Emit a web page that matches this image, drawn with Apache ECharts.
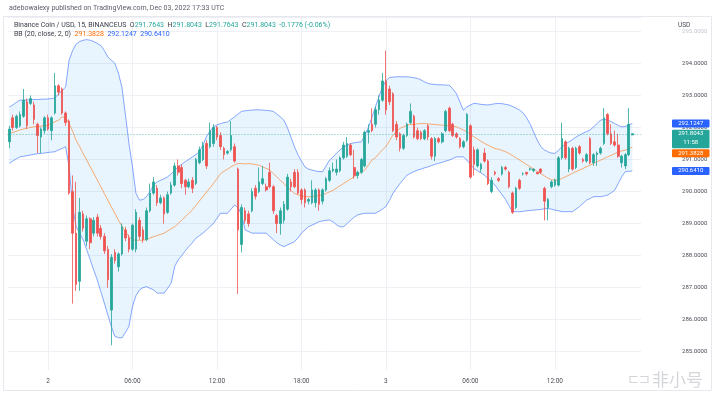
<!DOCTYPE html>
<html><head><meta charset="utf-8">
<script src="https://cdn.jsdelivr.net/npm/echarts@6/dist/echarts.min.js"></script>
<style>html,body{margin:0;padding:0;background:#fff}#c{width:719px;height:394px}</style>
</head><body><div id="c"></div>
<script>
// ---------- DATA (BNB/USD 15m, BINANCEUS) ----------
const startUTC = Date.UTC(2022, 11, 1, 21, 15);   // first candle time
const slotCount = 180;                              // 178 candles + 2 empty right-offset slots

const openP = [291.55,292.30,292.00,292.05,292.35,292.80,292.75,292.70,292.10,291.70,
291.90,292.30,291.90,292.45,293.30,293.20,292.45,292.20,290.00,288.70,
287.20,289.30,288.45,289.15,288.70,289.20,288.85,288.60,288.20,286.30,
288.10,287.65,288.05,288.80,288.55,288.20,288.20,289.10,288.80,288.50,
289.40,289.95,290.10,289.65,289.80,289.35,289.95,290.20,290.80,290.75,
290.35,290.15,290.35,290.25,290.90,291.00,291.50,291.40,291.50,292.00,
291.75,291.35,291.20,291.30,291.40,290.70,288.35,289.40,289.30,289.40,
290.10,290.00,290.25,290.15,290.60,290.15,289.25,289.00,289.10,289.45,
290.30,290.60,290.60,290.05,290.05,289.70,289.65,289.65,290.05,289.70,
290.05,290.35,290.65,290.60,290.65,291.05,291.10,291.45,290.75,290.50,
290.60,290.80,291.85,292.10,292.10,292.55,292.85,293.45,293.20,293.05,
292.10,291.80,291.35,291.75,292.15,292.35,291.90,291.85,291.65,292.05,
291.65,291.10,291.65,291.55,291.90,292.60,292.10,291.80,291.65,291.40,
291.60,292.05,291.30,290.80,290.70,291.20,290.95,290.00,290.60,290.40,
290.55,290.75,290.60,289.95,289.50,290.35,290.55,290.60,290.70,290.65,
290.60,290.70,290.10,289.50,290.15,290.20,290.20,291.05,291.55,290.70,
291.35,290.75,291.40,291.00,290.95,291.65,290.90,291.15,291.20,291.50,
292.40,291.80,291.55,291.45,290.90,290.80,291.15,291.7643];

const closeP = [291.95,292.00,292.35,292.40,292.85,292.05,292.90,292.25,291.75,291.95,
292.30,291.95,292.30,293.30,293.10,292.45,292.15,289.95,288.70,287.10,
289.35,288.85,289.15,288.40,289.10,288.70,288.60,288.15,287.25,287.95,
287.85,288.05,288.90,288.55,288.20,288.95,289.35,288.60,288.50,289.40,
289.95,290.30,289.65,289.80,289.30,289.90,290.20,290.80,290.60,290.25,
290.15,290.30,290.10,291.00,291.30,291.45,290.80,291.90,292.00,291.70,
291.40,291.15,291.25,291.75,290.95,288.80,289.50,289.10,289.00,290.00,
289.85,290.30,290.40,290.05,290.15,289.40,289.00,289.40,289.60,290.45,
290.15,290.15,289.95,289.75,289.65,289.75,290.05,290.05,289.60,290.05,
290.40,290.65,290.70,290.70,291.05,291.45,291.50,291.15,290.50,290.60,
291.00,291.85,291.90,291.90,292.55,292.85,293.45,292.55,292.80,291.90,
291.70,291.35,291.75,292.10,292.50,291.70,291.65,291.65,291.90,291.70,
291.10,291.65,291.55,291.80,292.50,291.90,291.75,291.70,291.40,291.55,
292.40,290.45,290.85,291.30,290.85,290.95,290.25,290.35,290.55,290.35,
290.75,290.70,290.15,289.35,290.10,290.10,290.55,290.55,290.70,290.70,
290.55,290.60,289.70,289.75,290.30,290.35,291.05,291.65,291.05,291.35,
290.70,291.35,291.20,290.95,291.15,290.90,291.15,291.20,291.35,292.30,
291.80,291.50,291.45,291.10,291.10,291.15,292.10,291.8043];

const lowP = [291.35,291.90,291.95,292.00,292.30,291.95,292.70,292.10,291.20,291.20,
291.80,291.90,291.60,292.40,293.00,292.40,292.05,289.90,286.50,286.90,
286.90,288.75,288.30,288.20,288.60,288.60,288.50,288.05,287.00,285.20,
287.75,287.50,288.00,288.45,288.10,288.15,288.10,288.50,288.40,288.45,
289.35,289.90,289.55,289.60,289.00,289.30,289.90,290.15,290.50,290.10,
289.90,290.10,289.95,290.20,290.85,290.95,290.70,291.35,291.40,291.60,
291.30,291.00,291.15,291.25,290.90,286.80,288.10,289.00,288.90,289.35,
289.75,289.95,290.20,290.00,290.10,289.30,288.70,288.65,289.00,289.40,
290.00,290.10,289.90,289.60,289.50,289.60,289.60,289.50,289.40,289.60,
290.00,290.30,290.60,290.50,290.60,291.00,291.05,291.10,290.40,290.40,
290.55,290.75,291.50,291.85,292.00,292.40,292.80,292.40,292.70,291.85,
291.60,291.25,291.30,291.70,292.10,291.65,291.60,291.60,291.60,291.60,
291.00,290.95,291.50,291.50,291.85,291.85,291.70,291.65,291.35,291.35,
291.55,290.40,290.50,290.75,290.60,290.90,290.20,289.95,290.50,290.30,
290.50,290.65,290.10,289.30,289.45,290.05,290.50,290.50,290.65,290.60,
290.55,290.55,289.10,289.10,290.10,290.15,290.15,291.00,291.00,290.60,
290.65,290.70,291.15,290.90,290.90,290.85,290.80,290.80,291.15,291.45,
291.75,291.45,291.40,291.05,290.75,290.70,291.10,291.7643];

const highP = [292.05,292.40,292.40,292.50,293.20,292.90,293.00,292.80,292.15,292.00,
292.35,292.40,292.35,293.70,293.35,293.25,292.50,292.25,290.50,290.30,
289.80,289.40,289.25,289.20,289.20,289.30,288.95,288.70,288.30,288.05,
288.20,288.10,289.00,288.90,288.65,289.00,289.45,289.20,288.90,289.50,
290.25,290.45,290.20,289.90,289.85,290.00,290.30,290.90,291.00,290.85,
290.40,290.40,290.45,291.05,291.40,291.55,291.60,292.15,292.10,292.05,
291.85,291.40,291.30,292.20,291.50,290.75,289.60,289.50,289.40,290.10,
290.20,290.75,290.80,290.25,290.90,290.20,289.30,289.50,289.70,290.55,
290.40,290.70,290.70,290.10,290.10,289.80,290.35,290.10,290.10,290.10,
290.45,290.75,290.90,291.00,291.10,291.55,291.70,291.50,291.30,290.65,
291.05,291.90,292.10,292.60,292.65,293.00,293.70,294.40,293.30,293.10,
292.20,291.85,291.80,292.15,292.75,292.40,292.00,291.90,291.95,292.10,
291.70,291.70,291.70,291.85,292.55,292.65,292.15,291.85,291.70,291.60,
292.45,292.10,291.40,291.35,290.90,291.35,291.00,290.45,290.65,290.45,
290.80,290.80,290.65,290.00,290.15,290.40,290.60,290.60,290.75,290.72,
290.60,290.72,290.15,289.80,290.35,290.40,291.10,292.15,291.60,291.40,
291.40,291.40,291.45,291.05,291.20,291.70,291.20,291.25,291.40,292.60,
292.45,292.10,291.90,291.80,291.15,291.20,292.60,291.8043];

const bbUpper = [292.64,292.70,292.78,292.85,292.85,292.86,292.86,292.87,292.87,292.88,
292.88,292.89,292.90,292.92,293.05,293.15,293.26,294.10,294.40,294.60,
294.68,294.72,294.74,294.72,294.68,294.62,294.56,294.40,294.20,294.10,
294.00,293.70,293.26,292.40,291.50,290.77,289.94,289.73,289.75,289.84,
290.00,290.20,290.30,290.35,290.40,290.46,290.55,290.66,290.77,290.85,
290.93,291.00,291.08,291.15,291.24,291.45,291.71,291.88,292.02,292.08,
292.12,292.15,292.17,292.25,292.33,292.42,292.50,292.52,292.53,292.54,
292.55,292.55,292.54,292.53,292.52,292.50,292.42,292.33,292.23,292.00,
291.70,291.40,291.15,290.95,290.77,290.70,290.67,290.64,290.62,290.62,
290.80,290.98,291.08,291.20,291.30,291.38,291.45,291.50,291.52,291.54,
291.55,291.75,292.00,292.30,292.64,292.95,293.26,293.45,293.56,293.57,
293.58,293.58,293.58,293.58,293.57,293.55,293.53,293.48,293.42,293.37,
293.35,293.34,293.33,293.33,293.32,293.32,293.20,293.06,292.80,292.54,
292.64,292.70,292.75,292.74,292.72,292.71,292.70,292.72,292.74,292.75,
292.74,292.72,292.70,292.65,292.60,292.54,292.45,292.30,292.10,291.85,
291.60,291.40,291.30,291.24,291.20,291.19,291.28,291.40,291.48,291.55,
291.62,291.70,291.76,291.82,291.87,291.92,292.02,292.12,292.23,292.25,
292.23,292.18,292.12,292.06,292.02,292.03,292.08,292.1247];

const bbBasis = [291.81,291.84,291.88,291.92,291.95,291.97,292.00,292.02,292.03,292.04,
292.05,292.07,292.12,292.18,292.23,292.33,292.30,292.12,291.88,291.60,
291.40,291.18,290.98,290.77,290.57,290.36,290.15,289.94,289.73,289.52,
289.32,289.11,288.92,288.75,288.60,288.49,288.48,288.48,288.48,288.50,
288.55,288.59,288.63,288.66,288.70,288.77,288.84,288.90,289.00,289.11,
289.21,289.32,289.42,289.56,289.70,289.84,289.98,290.11,290.25,290.40,
290.56,290.63,290.70,290.77,290.83,290.88,290.87,290.86,290.87,290.86,
290.84,290.82,290.77,290.72,290.67,290.56,290.46,290.35,290.25,290.14,
290.04,289.94,289.90,289.87,289.84,289.84,289.84,289.86,289.88,289.89,
289.94,289.99,290.04,290.11,290.18,290.25,290.32,290.39,290.46,290.53,
290.60,290.67,290.82,290.98,291.05,291.18,291.30,291.40,291.58,291.76,
291.87,291.97,292.02,292.07,292.09,292.10,292.11,292.12,292.12,292.11,
292.10,292.09,292.08,292.07,292.06,292.05,292.04,292.02,291.97,291.92,
291.86,291.78,291.71,291.64,291.57,291.50,291.45,291.39,291.34,291.32,
291.28,291.24,291.19,291.12,291.05,290.98,290.91,290.84,290.77,290.70,
290.63,290.56,290.49,290.42,290.36,290.36,290.36,290.41,290.46,290.51,
290.57,290.62,290.67,290.72,290.77,290.82,290.88,290.93,290.98,291.03,
291.08,291.13,291.18,291.24,291.27,291.29,291.34,291.3828];

const bbLower = [290.88,290.95,291.02,291.08,291.10,291.12,291.14,291.16,291.18,291.19,
291.20,291.22,291.23,291.24,291.30,291.34,291.40,290.77,289.53,288.90,
288.70,288.49,288.18,287.87,287.55,287.24,286.88,286.52,286.15,285.79,
285.48,285.44,285.43,285.60,285.79,286.41,286.75,286.93,287.00,287.03,
286.98,286.93,286.83,286.83,286.83,286.98,287.14,287.66,287.87,288.00,
288.15,288.28,288.40,288.54,288.62,288.70,288.80,288.90,289.00,289.16,
289.32,289.32,289.32,289.45,289.58,289.50,289.27,288.80,288.75,288.70,
288.70,288.70,288.70,288.70,288.60,288.50,288.40,288.33,288.28,288.33,
288.38,288.43,288.55,288.70,288.80,288.90,288.95,289.00,289.06,289.08,
289.10,289.11,289.05,288.96,288.90,288.90,289.00,289.11,289.20,289.27,
289.30,289.32,289.32,289.32,289.32,289.38,289.45,289.53,289.72,289.94,
290.10,290.25,290.38,290.51,290.57,290.62,290.67,290.70,290.74,290.77,
290.81,290.85,290.88,290.91,290.95,290.98,291.03,291.08,291.08,291.08,
290.98,290.85,290.72,290.65,290.58,290.51,290.40,290.30,290.20,290.05,
289.90,289.75,289.55,289.37,289.37,289.37,289.38,289.40,289.41,289.42,
289.43,289.44,289.46,289.47,289.45,289.42,289.40,289.37,289.37,289.37,
289.37,289.45,289.53,289.63,289.73,289.78,289.84,289.84,289.84,289.86,
289.89,289.96,290.04,290.25,290.46,290.62,290.63,290.6410];

const lastOHLC = {o: '291.7643', h: '291.8043', l: '291.7643', c: '291.8043', chg: '-0.1776 (-0.06%)'};
const bbLegend = {basis: '291.3828', upper: '292.1247', lower: '290.6410'};
const lastPrice = 291.8043;
const countdown = '11:58';
const timeLabels = ['00:00', '06:00', '12:00', '18:00'];

// ---------- BUILD ----------
const pad = n => String(n).padStart(2, '0');
const categories = [];
for (let k = 0; k < slotCount; k++) {
  const d = new Date(startUTC + k * 15 * 60000);
  categories.push(d.getUTCFullYear() + '-' + pad(d.getUTCMonth() + 1) + '-' + pad(d.getUTCDate()) + ' ' + pad(d.getUTCHours()) + ':' + pad(d.getUTCMinutes()));
}
const candles = openP.map((o, i) => [o, closeP[i], lowP[i], highP[i]]);
const bandWidth = bbUpper.map((u, i) => +(u - bbLower[i]).toFixed(4));
const isMajor = (i, v) => i < openP.length && timeLabels.indexOf(v.slice(11)) >= 0;
const fmtTime = v => v.slice(11) === '00:00' ? String(+v.slice(8, 10)) : v.slice(11);

const FONT = 'Roboto, "Liberation Sans", sans-serif';
const UP = '#26a69a', DOWN = '#ef5350';
const GRID = { left: 7.5, width: 633.6, top: 17 };

const chart = echarts.init(document.getElementById('c'), null, { renderer: 'canvas' });
chart.setOption({
  animation: false,
  backgroundColor: '#ffffff',
  grid: [
    { left: GRID.left, width: GRID.width, top: GRID.top, height: 353 },
    { left: GRID.left, width: GRID.width, top: GRID.top, height: 334.7 }
  ],
  xAxis: [
    { type: 'category', gridIndex: 0, data: categories, boundaryGap: true,
      axisLine: { show: false }, axisTick: { show: false },
      axisLabel: { interval: (i, v) => isMajor(i, v), formatter: fmtTime, fontSize: 6.5, color: '#4a4d57', margin: 8, fontFamily: FONT },
      splitLine: { show: true, alignWithLabel: true, interval: (i, v) => isMajor(i, v), lineStyle: { color: '#eef0f5', width: 1 } } },
    { type: 'value', gridIndex: 1, show: false }
  ],
  yAxis: [
    { type: 'value', gridIndex: 0, min: 284.43, max: 295.446, show: false, splitLine: { show: false } },
    { type: 'value', gridIndex: 1, position: 'right', min: 285, max: 295.446, interval: 1,
      axisLine: { show: false }, axisTick: { show: false },
      axisLabel: { margin: 41, fontSize: 6, fontFamily: FONT, showMaxLabel: false,
        formatter: v => v.toFixed(4), color: v => (v >= 295 ? '#c3c6ce' : '#4a4d57') },
      splitLine: { show: true, lineStyle: { color: '#eef0f5', width: 1 } } }
  ],
  series: [
    { name: 'bbBase', type: 'line', data: bbLower, stack: 'bb', symbol: 'none', silent: true,
      lineStyle: { opacity: 0 }, z: 1 },
    { name: 'bbFill', type: 'line', data: bandWidth, stack: 'bb', symbol: 'none', silent: true,
      lineStyle: { opacity: 0 }, areaStyle: { color: 'rgba(33,150,243,0.1)', opacity: 1 }, z: 1 },
    { name: 'Upper', type: 'line', data: bbUpper, symbol: 'none', silent: true,
      lineStyle: { color: '#2962ff', width: 1, opacity: 0.55 }, z: 2 },
    { name: 'Lower', type: 'line', data: bbLower, symbol: 'none', silent: true,
      lineStyle: { color: '#2962ff', width: 1, opacity: 0.55 }, z: 2 },
    { name: 'Basis', type: 'line', data: bbBasis, symbol: 'none', silent: true,
      lineStyle: { color: '#ff6d00', width: 1, opacity: 0.55 }, z: 2 },
    { name: 'BNBUSD', type: 'candlestick', data: candles, barWidth: 2.1, z: 3,
      itemStyle: { color: UP, color0: DOWN, borderColor: UP, borderColor0: DOWN, borderWidth: 0.8 },
      markLine: { silent: true, symbol: 'none', label: { show: false },
        lineStyle: { color: UP, type: [1, 2], width: 1, opacity: 0.7 },
        data: [{ yAxis: lastPrice }] } }
  ]
});

// ---------- annotations: header, legend, price tags ----------
const yPx = v => chart.convertToPixel({ yAxisIndex: 0 }, v);
const TAG_X = 672, TAG_W = 37.5, TAG_H = 8;
const yUp = yPx(+bbLegend.upper), yLast = yPx(lastPrice), yBasis = yPx(+bbLegend.basis), yLow = yPx(+bbLegend.lower);
const tealTop = yLast - 4, tealH = 18.5;
const orangeTop = Math.max(yBasis - TAG_H / 2, tealTop + tealH + 1);
const tag = (top, h, color, lines) => {
  const els = [{ type: 'rect', shape: { x: TAG_X, y: top, width: TAG_W, height: h, r: 1 }, style: { fill: color }, z: 100 }];
  lines.forEach((t, k) => els.push({ type: 'text', z: 101,
    style: { text: t, x: TAG_X + TAG_W / 2, y: top + 4 + k * 8.5, fill: '#ffffff', fontSize: 6, fontFamily: FONT, align: 'center', verticalAlign: 'middle' } }));
  return els;
};
const elements = [].concat(
  [{ type: 'rect', shape: { x: 3.5, y: 16.5, width: 708, height: 374 }, style: { fill: 'none', stroke: '#e6e8ee', lineWidth: 1 }, z: 50 },
   { type: 'text', z: 100, style: { text: 'adebowalexy published on TradingView.com, Dec 03, 2022 17:33 UTC', x: 9, y: 8, fill: '#5d606b', fontSize: 7, fontFamily: FONT, verticalAlign: 'middle' } },
   { type: 'text', z: 100, style: {
      text: '{a|Binance Coin / USD, 15, BINANCEUS}  {a|O}{v|' + lastOHLC.o + '}  {a|H}{v|' + lastOHLC.h + '}  {a|L}{v|' + lastOHLC.l + '}  {a|C}{v|' + lastOHLC.c + '}  {v|' + lastOHLC.chg + '}',
      x: 14, y: 25, fontSize: 7, fontFamily: FONT, verticalAlign: 'middle',
      rich: { a: { fill: '#3a3d47', fontSize: 7, fontFamily: FONT }, v: { fill: UP, fontSize: 7, fontFamily: FONT } } } },
   { type: 'text', z: 100, style: {
      text: '{a|BB (20, close, 2, 0)}  {o|' + bbLegend.basis + '}  {b|' + bbLegend.upper + '}  {b|' + bbLegend.lower + '}',
      x: 14, y: 34, fontSize: 7, fontFamily: FONT, verticalAlign: 'middle',
      rich: { a: { fill: '#3a3d47', fontSize: 7, fontFamily: FONT }, o: { fill: '#ff6d00', fontSize: 7, fontFamily: FONT }, b: { fill: '#2962ff', fontSize: 7, fontFamily: FONT } } } },
   { type: 'text', z: 100, style: { text: 'USD', x: 678, y: 25, fill: '#4a4d57', fontSize: 6.5, fontFamily: FONT, verticalAlign: 'middle' } },
   { type: 'text', z: 100, style: { text: '非小号', x: 652, y: 380, fill: '#d4d6da', fontSize: 17, fontFamily: '"Noto Sans CJK SC"', verticalAlign: 'middle' } },
   { type: 'text', z: 100, style: { text: '⊏⊐', x: 628, y: 380, fill: '#d4d6da', fontSize: 13, fontFamily: FONT, verticalAlign: 'middle' } }
  ],
  tag(yUp - TAG_H / 2, TAG_H, '#2962ff', [bbLegend.upper]),
  tag(tealTop, tealH, UP, [lastOHLC.c, countdown]),
  tag(orangeTop, TAG_H, '#ff6d00', [bbLegend.basis]),
  tag(yLow - TAG_H / 2, TAG_H, '#2962ff', [bbLegend.lower])
);
chart.setOption({ graphic: { elements: elements } });
</script>
</body></html>
